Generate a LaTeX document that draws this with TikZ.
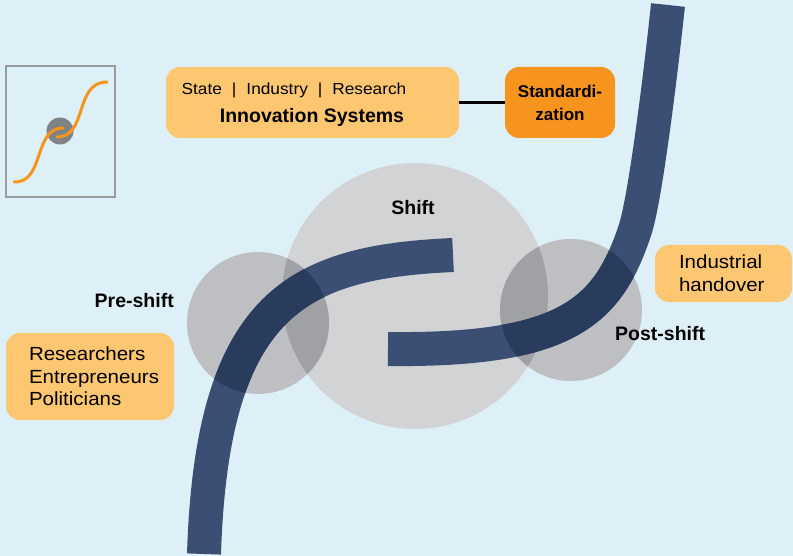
\documentclass[tikz,border=0pt]{standalone}
\usepackage{fontspec}
\setmainfont{Liberation Sans}
\newfontfamily\regfont{Liberation Sans}[FakeStretch=1.08]
\definecolor{bgc}{RGB}{222,240,247}
\definecolor{lightor}{RGB}{253,198,112}
\definecolor{darkor}{RGB}{247,148,30}
\definecolor{bigc}{RGB}{210,211,213}
\definecolor{smallc}{RGB}{190,191,195}
\definecolor{ovc}{RGB}{160,161,165}
\definecolor{bandc}{RGB}{59,79,116}
\definecolor{bandd}{RGB}{42,60,93}
\definecolor{insetc}{RGB}{155,155,155}
\definecolor{dotc}{RGB}{128,130,133}
\begin{document}
\begin{tikzpicture}[x=1pt,y=-1pt,
  softbox/.style={fill=lightor, rounded corners=14pt, inner sep=0pt},
  stdbox/.style={fill=darkor, rounded corners=14pt, inner sep=0pt},
  band/.style={line width=34pt, draw=bandc, line cap=butt},
  bandshade/.style={line width=34pt, draw=bandd, line cap=butt},
  scurve/.style={line width=3pt, draw=darkor, line cap=round},
  lbl/.style={font=\bfseries\fontsize{19.5}{23}\selectfont, inner sep=0pt},
  regtext/.style={font=\regfont\fontsize{19}{22.5}\selectfont}
]
\useasboundingbox (0,0) rectangle (793,556);
\fill[bgc] (0,0) rectangle (793,556);

% inset
\node[draw=insetc, line width=1.5pt, minimum width=109pt, minimum height=131pt, inner sep=0pt] (inset) at (60.5,131.5) {};
\node[circle, fill=dotc, minimum size=27pt, inner sep=0pt] (dot) at (60,131) {};
\draw[scurve] (14,182) .. controls (45,183) and (33,128) .. (63,128);
\draw[scurve] (57,137) .. controls (88,137) and (74,82) .. (107,82);

% boxes
\node[softbox, minimum width=293pt, minimum height=71pt] (inno) at (312.5,102.5) {};
\node[font=\regfont\fontsize{16}{20}\selectfont, anchor=base, inner sep=0pt] (innotop) at (294,95)
  {State\hspace{10pt}|\hspace{10pt}Industry\hspace{10pt}|\hspace{10pt}Research};
\node[font=\bfseries\fontsize{19.5}{23}\selectfont, anchor=base, inner sep=0pt] (innobot) at (312,123) {Innovation Systems};
\node[stdbox, minimum width=110pt, minimum height=71pt, align=center,
  font=\bfseries\fontsize{17}{23}\selectfont] (std) at (560,102.5) {Standardi-\\zation};
\draw[line width=2.5pt] (inno.east) -- (std.west);

\node[softbox, regtext, minimum height=87pt, text width=122pt, inner xsep=23pt, align=left] (actors) at (90,376.5)
  {Researchers\\Entrepreneurs\\Politicians};
\node[softbox, font=\regfont\fontsize{19}{23}\selectfont, minimum height=57pt, text width=89pt, inner xsep=24pt, align=left] (hand) at (723.5,273.5)
  {Industrial\\handover};

% circles
\node[circle, fill=bigc, minimum size=266pt, inner sep=0pt] (shift) at (415,296) {};
\node[circle, fill=smallc, minimum size=142pt, inner sep=0pt] (pre) at (258,323) {};
\node[circle, fill=smallc, minimum size=142pt, inner sep=0pt] (post) at (571,310) {};
\begin{scope}
  \clip (shift.center) circle[radius=133pt];
  \fill[ovc] (pre.center) circle[radius=71pt];
  \fill[ovc] (post.center) circle[radius=71pt];
\end{scope}

% bands
\coordinate (b1s) at (204,554);
\coordinate (b1e) at (453,255);
\coordinate (b2s) at (388,349);
\coordinate (b2m) at (635,230);
\coordinate (b2e) at (668,5);
\draw[band] (b1s) .. controls (212,300) and (300,262) .. (b1e);
\draw[band] (b2s) .. controls (568,351) and (608,311) .. (b2m) .. controls (645,200) and (660,80) .. (b2e);
\begin{scope}
  \clip (pre.center) circle[radius=71pt] (post.center) circle[radius=71pt];
  \draw[bandshade] (b1s) .. controls (212,300) and (300,262) .. (b1e);
  \draw[bandshade] (b2s) .. controls (568,351) and (608,311) .. (b2m) .. controls (645,200) and (660,80) .. (b2e);
\end{scope}

% labels
\node[lbl, anchor=base] (shiftlbl) at (413,215) {Shift};
\node[lbl, anchor=base east] (prelbl) at (174,308) {Pre-shift};
\node[lbl, anchor=base west] (postlbl) at (615,340) {Post-shift};
\end{tikzpicture}
\end{document}
